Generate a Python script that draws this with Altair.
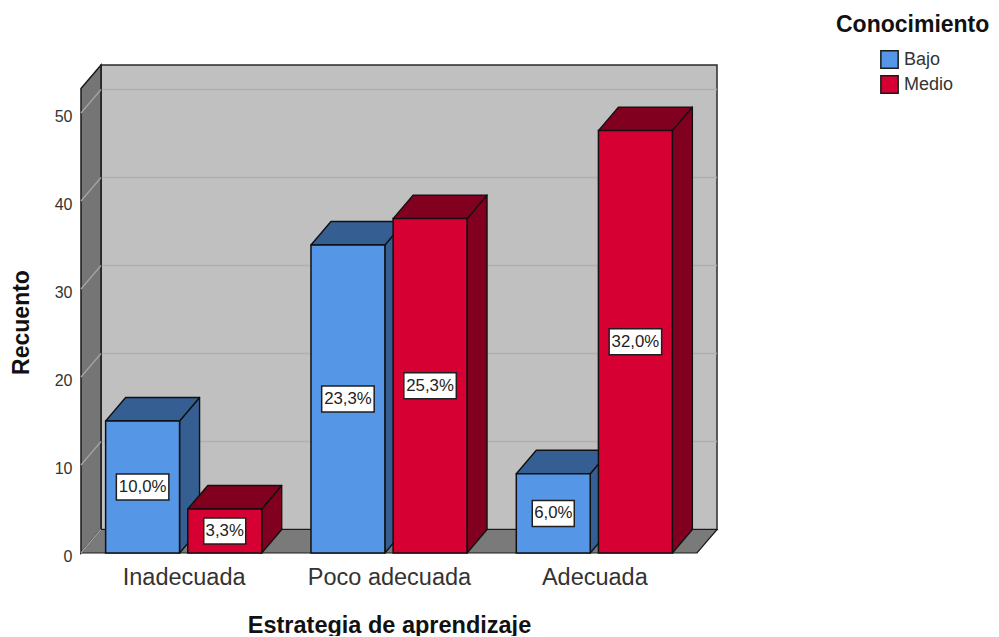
import json
import altair as alt
import pandas as pd

categories = ["Inadecuada", "Poco adecuada", "Adecuada"]
series = ["Bajo", "Medio"]
bajo_counts = [15, 35, 9]
medio_counts = [5, 38, 48]
bajo_labels = ["10,0%", "23,3%", "6,0%"]
medio_labels = ["3,3%", "25,3%", "32,0%"]
y_ticks = [0, 10, 20, 30, 40, 50]

front = {"Bajo": "#5596E6", "Medio": "#D60032"}
shade = {"Bajo": "#355E93", "Medio": "#82001F"}
FONT = "Liberation Sans"

# scale geometry: one x unit is one category slot
PW, PH = 636, 488
PX_X, PX_Y = 205.33, 8.8
DX, DY = 20 / PX_X, 23.5 / PX_Y
XMAX, YMAX = PW / PX_X, PH / PX_Y
FRONT_W, FRONT_H = 3.0, YMAX - DY
xs = alt.Scale(domain=[0, XMAX], nice=False, zero=False)
ys = alt.Scale(domain=[0, YMAX], nice=False, zero=False)

label_expr = f"{json.dumps(categories)}[floor(datum.value)]"
x_axis = alt.Axis(
    values=[0.5, 1.5, 2.5], labelExpr=label_expr, title="Estrategia de aprendizaje",
    domain=False, ticks=False, grid=False, labelPadding=24, labelFont=FONT, labelFontSize=23.5,
    labelColor="#333333", labelBaseline="middle", labelFlush=False, labelOverlap=False,
    titleFont=FONT, titleFontSize=23.5, titleFontWeight="bold", titleColor="#111111",
    titleX=308, titleY=72, titleBaseline="middle", titleAnchor="middle", titleAlign="center")
y_axis = alt.Axis(
    values=y_ticks, title="Recuento", domain=False, ticks=False, grid=False, labelPadding=9,
    labelOffset=3, labelFont=FONT, labelFontSize=16, labelColor="#333333",
    titleFont=FONT, titleFontSize=23, titleFontWeight="bold", titleColor="#111111",
    titleX=-60, titleY=257, titleBaseline="middle", titleAnchor="middle", titleAngle=270)

X = lambda f="x": alt.X(f"{f}:Q", scale=xs, axis=x_axis)
Y = lambda f="y": alt.Y(f"{f}:Q", scale=ys, axis=y_axis)

# ---- walls
back = alt.Chart(pd.DataFrame([{"x": DX, "x2": XMAX, "y": DY, "y2": YMAX}])).mark_rect(
    fill="#C0C0C0", stroke="#2a2a2a", strokeWidth=1.5
).encode(x=X(), x2="x2:Q", y=Y(), y2="y2:Q")

left_wall = alt.Chart(pd.DataFrame([
    {"x": 0, "y": FRONT_H, "y2": 0},
    {"x": DX, "y": YMAX, "y2": DY},
])).mark_area(fill="#757575", stroke="#1a1a1a", strokeWidth=1.5).encode(x=X(), y=Y(), y2="y2:Q")

floor = alt.Chart(pd.DataFrame([
    {"x": 0, "y": 0, "y2": 0},
    {"x": DX, "y": DY, "y2": 0},
    {"x": FRONT_W, "y": DY, "y2": 0},
    {"x": XMAX, "y": DY, "y2": DY},
])).mark_area(fill="#7A7A7A", stroke="#1a1a1a", strokeWidth=1.2).encode(x=X(), y=Y(), y2="y2:Q")

grid_back = alt.Chart(pd.DataFrame([
    {"x": DX, "x2": XMAX, "y": v + DY} for v in y_ticks[1:]
])).mark_rule(stroke="#B0B0B0", strokeWidth=1.5).encode(x=X(), x2="x2:Q", y=Y())

grid_left = alt.Chart(pd.DataFrame(
    [{"x": 0, "y": v, "k": v} for v in y_ticks] + [{"x": DX, "y": v + DY, "k": v} for v in y_ticks]
)).mark_line(stroke="#A6A6A6", strokeWidth=1.2).encode(x=X(), y=Y(), detail="k:N")

# ---- bars
layers = [back, grid_back, left_wall, floor, grid_left]
color_scale = alt.Scale(domain=series, range=[front[s] for s in series])
legend_cfg = alt.Legend(
    title=None, orient="none", legendX=799, legendY=-15, symbolType="square", symbolSize=300,
    symbolStrokeColor="#1a1a1a", symbolStrokeWidth=1.5, labelFont=FONT, labelFontSize=18,
    labelColor="#333333", labelOffset=5, rowPadding=0, padding=0)

for idx, (s, counts) in enumerate(zip(series, [bajo_counts, medio_counts])):
    x_from = (-0.38, 0.02)[idx]
    rows_rect, rows_faces = [], []
    for c, (cat, v) in enumerate(zip(categories, counts)):
        x0 = c + 0.5 + x_from
        x1 = x0 + 0.36
        rows_rect.append({"x": x0, "x2": x1, "y": 0, "y2": v, "serie": s})
        rows_faces += [
            {"f": f"s{c}", "x": x1, "y": v, "y2": 0},
            {"f": f"s{c}", "x": x1 + DX, "y": v + DY, "y2": DY},
            {"f": f"t{c}", "x": x0, "y": v, "y2": v},
            {"f": f"t{c}", "x": x0 + DX, "y": v + DY, "y2": v},
            {"f": f"t{c}", "x": x1, "y": v + DY, "y2": v},
            {"f": f"t{c}", "x": x1 + DX, "y": v + DY, "y2": v + DY},
        ]
    layers.append(alt.Chart(pd.DataFrame(rows_faces)).mark_area(
        fill=shade[s], stroke="#111111", strokeWidth=1.4, strokeJoin="round"
    ).encode(x=X(), y=Y(), y2="y2:Q", detail="f:N"))
    layers.append(alt.Chart(pd.DataFrame(rows_rect)).mark_rect(
        stroke="#111111", strokeWidth=1.5
    ).encode(x=X(), x2="x2:Q", y=Y(), y2="y2:Q",
             color=alt.Color("serie:N", scale=color_scale, legend=legend_cfg)))

# ---- value labels
rows = []
for idx, (counts, labels) in enumerate(zip([bajo_counts, medio_counts], [bajo_labels, medio_labels])):
    for c, (v, t) in enumerate(zip(counts, labels)):
        xc = c + 0.5 + (-0.2, 0.2)[idx]
        half = (10.5 * len(t) / 2) / PX_X
        rows.append({"x": xc, "x0": xc - half, "x1": xc + half, "y": v / 2,
                     "y0": v / 2 - 13 / PX_Y, "y1": v / 2 + 13 / PX_Y, "t": t})
lab = pd.DataFrame(rows)
layers.append(alt.Chart(lab).mark_rect(fill="white", stroke="#1f1f1f", strokeWidth=1.5).encode(
    x=X("x0"), x2="x1:Q", y=Y("y0"), y2="y1:Q"))
layers.append(alt.Chart(lab).mark_text(font=FONT, fontSize=16.8, color="#222222", baseline="middle").encode(
    x=X(), y=Y(), text="t:N"))

# ---- legend heading
layers.append(alt.Chart(pd.DataFrame({"t": ["Conocimiento"]})).mark_text(
    font=FONT, fontSize=23, fontWeight="bold", color="#111111", align="left", baseline="middle"
).encode(x=alt.value(755), y=alt.value(-40), text="t:N"))

chart = alt.layer(*layers).properties(
    width=PW, height=PH,
    autosize=alt.AutoSizeParams(type="none"),
    padding={"left": 73, "top": 57, "right": 274, "bottom": 83},
).configure_view(stroke=None)

chart.save("out.html", embed_options={"renderer": "svg", "actions": False})
